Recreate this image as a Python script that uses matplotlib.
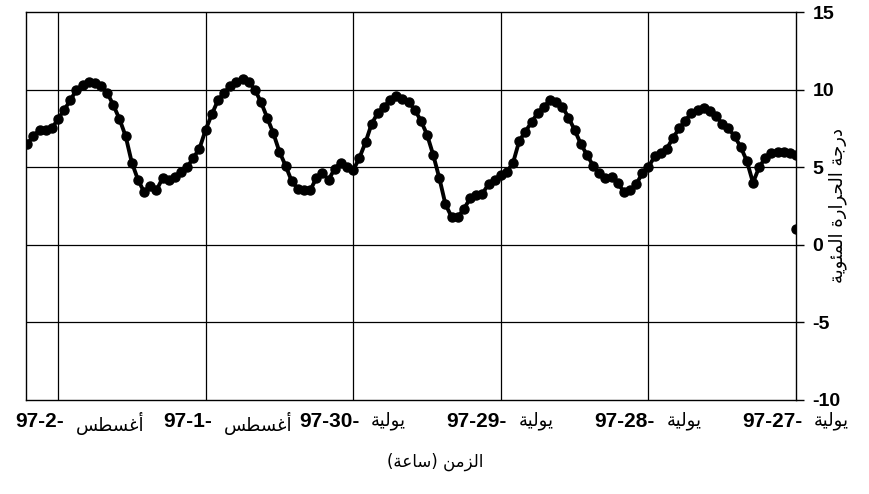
import matplotlib
matplotlib.use("Agg")
import matplotlib.pyplot as plt
from matplotlib.transforms import blended_transform_factory

# hourly temperature, hour 0 = 27 July 00:00, time runs right to left
hours = list(range(126))
temps = [5.8, 5.9, 6.0, 6.0, 5.9, 5.6, 5.0, 4.0, 5.4, 6.3,
         7.0, 7.5, 7.8, 8.3, 8.6, 8.8, 8.7, 8.5, 8.0, 7.5,
         6.9, 6.2, 5.9, 5.7, 5.0, 4.6, 3.9, 3.5, 3.4, 4.0,
         4.4, 4.3, 4.6, 5.1, 5.8, 6.5, 7.4, 8.2, 8.9, 9.2,
         9.3, 8.9, 8.5, 7.9, 7.3, 6.7, 5.3, 4.7, 4.5, 4.2,
         3.9, 3.3, 3.2, 3.0, 2.3, 1.8, 1.8, 2.6, 4.3, 5.8,
         7.1, 8.0, 8.7, 9.2, 9.4, 9.6, 9.3, 8.9, 8.5, 7.8,
         6.6, 5.6, 4.8, 5.0, 5.3, 4.9, 4.2, 4.6, 4.3, 3.5,
         3.5, 3.6, 4.1, 5.1, 6.0, 7.2, 8.2, 9.2, 10.0, 10.5,
         10.7, 10.5, 10.2, 9.8, 9.3, 8.4, 7.4, 6.2, 5.6, 5.0,
         4.7, 4.4, 4.2, 4.3, 3.5, 3.8, 3.4, 4.2, 5.3, 7.0,
         8.1, 9.0, 9.8, 10.2, 10.4, 10.5, 10.3, 10.0, 9.3, 8.7,
         8.1, 7.5, 7.4, 7.4, 7.0, 6.5]
# lone reading at the start
stray_hours = [0]
stray_temps = [1.0]

day_starts = [0, 24, 48, 72, 96, 120]
day_nums = ["97-27-", "97-28-", "97-29-", "97-30-", "97-1-", "97-2-"]
# Arabic month names, written in shaped presentation forms (visual order)
july = "\ufe94\ufef4\ufedf\ufeee\ufef3"        # يولية
august = "\ufeb2\ufec4\ufeb4\ufecf\ufe83"      # أغسطس
day_months = [july, july, july, july, august, august]

y_ticks = [-10, -5, 0, 5, 10, 15]
ylabel = ("\ufe94\ufef3\ufeee\ufe8c\ufee4\ufedf\ufe8d "
          "\ufe93\ufead\ufe8d\ufeae\ufea4\ufedf\ufe8d "
          "\ufe94\ufe9f\ufead\ufea9")              # درجة الحرارة المئوية
xlabel = ("(\ufe94\ufecb\ufe8e\ufeb3) "
          "\ufee6\ufee3\ufeb0\ufedf\ufe8d")         # الزمن (ساعة)

bold_font = ["Liberation Sans Narrow", "Liberation Sans", "DejaVu Sans"]

fig = plt.figure(figsize=(8.7, 4.94), dpi=100)
ax = fig.add_axes([0.0299, 0.1903, 0.8851, 0.7854])

ax.plot(hours, temps, color="black", lw=2.8, marker="o", ms=6.5,
        mfc="black", mec="black")
ax.plot(stray_hours, stray_temps, color="black", ls="none", marker="o", ms=6.5)

ax.set_xlim(125.2, 0)
ax.set_ylim(-10, 15)

for d in day_starts[1:]:
    ax.axvline(d, color="black", lw=0.9)
for v in y_ticks[1:-1]:
    ax.axhline(v, color="black", lw=0.9)

for s in ax.spines.values():
    s.set_color("black")
    s.set_linewidth(1.0)

ax.set_xticks([])
ax.yaxis.tick_right()
ax.set_yticks(y_ticks)
ax.set_yticklabels([str(v) for v in y_ticks], family=bold_font,
                   fontweight="bold", fontsize=14)
ax.tick_params(axis="y", direction="out", length=6, width=1, pad=6)

trans = blended_transform_factory(ax.transData, ax.transAxes)
for d, num, mon in zip(day_starts, day_nums, day_months):
    ax.text(d - 1.0, -0.03, num, transform=trans, ha="right", va="top",
            family=bold_font, fontweight="bold", fontsize=15)
    ax.text(d - 2.9, -0.03, mon, transform=trans, ha="left", va="top",
            fontfamily="DejaVu Sans", fontsize=13)

fig.text(0.5, 0.065, xlabel, ha="center", va="center",
         fontfamily="DejaVu Sans", fontsize=12)
fig.text(0.963, 0.585, ylabel, ha="center", va="center", rotation=90,
         fontfamily="DejaVu Sans", fontsize=13)

fig.savefig("out.png", dpi=100)
